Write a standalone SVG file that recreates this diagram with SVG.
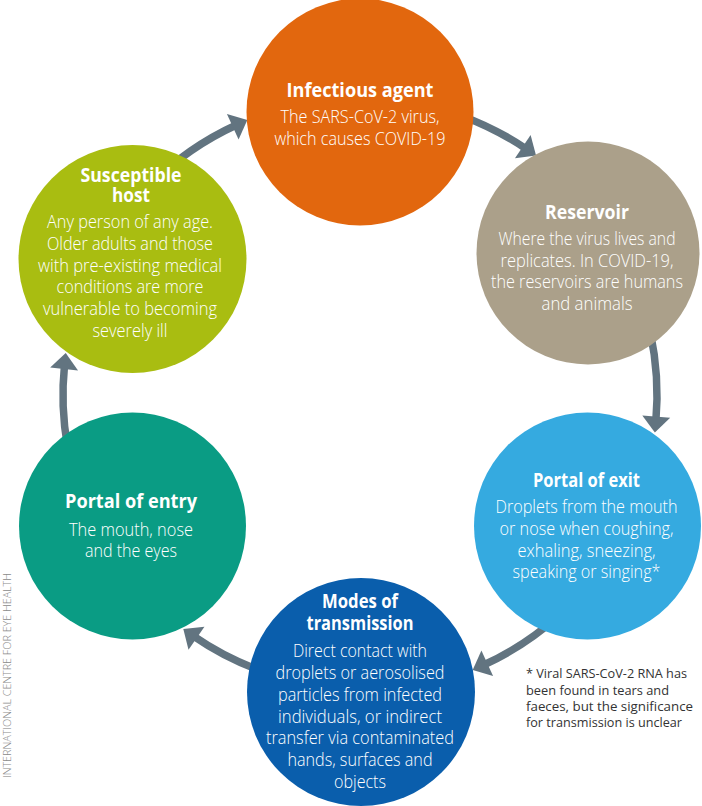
<svg xmlns="http://www.w3.org/2000/svg" width="702" height="806" viewBox="0 0 702 806">
<defs>
<style>
.t{font-family:"Open Sans","Liberation Sans",sans-serif;font-weight:700;font-size:19px;fill:#fff;text-anchor:middle}
.b{font-family:"Open Sans","Liberation Sans",sans-serif;font-weight:300;font-size:18px;fill:#fff;text-anchor:middle}
.fn{font-family:"Open Sans","Liberation Sans",sans-serif;font-weight:400;font-size:13.5px;fill:#333}
.side{font-family:"Open Sans","Liberation Sans",sans-serif;font-weight:300;font-size:10px;fill:#8a8a8a}
.arc{fill:none;stroke:#627480;stroke-width:7.5}
</style>
<marker id="ah" markerUnits="userSpaceOnUse" markerWidth="30" markerHeight="30" viewBox="0 -15 17 30" refX="4" refY="0" orient="auto">
<path d="M0,-14 L16,0 L0,14 z" fill="#627480"/>
</marker>
</defs>
<rect width="702" height="806" fill="#fff"/>
<g id="connectors">
<path class="arc" marker-end="url(#ah)" d="M150,185 A297,297 0 0 1 236.4,125"/>
<path class="arc" marker-end="url(#ah)" d="M461.6,115.9 A297,297 0 0 1 526.1,148.8"/>
<path class="arc" marker-end="url(#ah)" d="M650.5,333.3 A297,297 0 0 1 655.9,420.6"/>
<path class="arc" marker-end="url(#ah)" d="M558.7,615.7 A297,297 0 0 1 483.6,665"/>
<path class="arc" marker-end="url(#ah)" d="M269.5,673.7 A293,293 0 0 1 193.2,635.9"/>
<path class="arc" marker-end="url(#ah)" d="M67.5,446.6 A297,297 0 0 1 64.5,365"/>
</g>
<g id="infectious-agent">
<circle cx="360" cy="112" r="113.5" fill="#E2670E"/>
<text class="t" x="360" y="97" textLength="147" lengthAdjust="spacingAndGlyphs">Infectious agent</text>
<text class="b" x="360" y="123" textLength="159" lengthAdjust="spacingAndGlyphs">The SARS-CoV-2 virus,</text>
<text class="b" x="360" y="145" textLength="171" lengthAdjust="spacingAndGlyphs">which causes COVID-19</text>
</g>
<g id="reservoir">
<circle cx="588" cy="253" r="111.5" fill="#ABA08A"/>
<text class="t" x="587" y="219" textLength="84" lengthAdjust="spacingAndGlyphs">Reservoir</text>
<text class="b" x="587" y="245" textLength="177" lengthAdjust="spacingAndGlyphs">Where the virus lives and</text>
<text class="b" x="587" y="267" textLength="173" lengthAdjust="spacingAndGlyphs">replicates. In COVID-19,</text>
<text class="b" x="587" y="288" textLength="192" lengthAdjust="spacingAndGlyphs">the reservoirs are humans</text>
<text class="b" x="587" y="310" textLength="91" lengthAdjust="spacingAndGlyphs">and animals</text>
</g>
<g id="portal-of-exit">
<circle cx="587.5" cy="526" r="113.5" fill="#35AAE0"/>
<text class="t" x="586.5" y="487" textLength="107" lengthAdjust="spacingAndGlyphs">Portal of exit</text>
<text class="b" x="586.5" y="513" textLength="182" lengthAdjust="spacingAndGlyphs">Droplets from the mouth</text>
<text class="b" x="586.5" y="535" textLength="174" lengthAdjust="spacingAndGlyphs">or nose when coughing,</text>
<text class="b" x="586.5" y="557" textLength="138" lengthAdjust="spacingAndGlyphs">exhaling, sneezing,</text>
<text class="b" x="586.5" y="578" textLength="148" lengthAdjust="spacingAndGlyphs">speaking or singing*</text>
</g>
<g id="modes-of-transmission">
<circle cx="361" cy="692" r="114" fill="#0A5EAC"/>
<text class="t" x="360" y="608" textLength="76" lengthAdjust="spacingAndGlyphs">Modes of</text>
<text class="t" x="360" y="630" textLength="107" lengthAdjust="spacingAndGlyphs">transmission</text>
<text class="b" x="360" y="657" textLength="134" lengthAdjust="spacingAndGlyphs">Direct contact with</text>
<text class="b" x="360" y="679" textLength="169" lengthAdjust="spacingAndGlyphs">droplets or aerosolised</text>
<text class="b" x="360" y="701" textLength="164" lengthAdjust="spacingAndGlyphs">particles from infected</text>
<text class="b" x="360" y="723" textLength="164" lengthAdjust="spacingAndGlyphs">individuals, or indirect</text>
<text class="b" x="360" y="744" textLength="188" lengthAdjust="spacingAndGlyphs">transfer via contaminated</text>
<text class="b" x="360" y="766" textLength="145" lengthAdjust="spacingAndGlyphs">hands, surfaces and</text>
<text class="b" x="360" y="788" textLength="52" lengthAdjust="spacingAndGlyphs">objects</text>
</g>
<g id="portal-of-entry">
<circle cx="132.5" cy="526" r="113.5" fill="#0A9C84"/>
<text class="t" x="131" y="508" textLength="132" lengthAdjust="spacingAndGlyphs">Portal of entry</text>
<text class="b" x="131" y="536" textLength="124" lengthAdjust="spacingAndGlyphs">The mouth, nose</text>
<text class="b" x="131" y="557" textLength="92" lengthAdjust="spacingAndGlyphs">and the eyes</text>
</g>
<g id="susceptible-host">
<circle cx="132.5" cy="259" r="114" fill="#A9BD11"/>
<text class="t" x="131" y="182" textLength="101" lengthAdjust="spacingAndGlyphs">Susceptible</text>
<text class="t" x="131" y="202" textLength="38" lengthAdjust="spacingAndGlyphs">host</text>
<text class="b" x="130" y="228" textLength="166" lengthAdjust="spacingAndGlyphs">Any person of any age.</text>
<text class="b" x="130" y="250" textLength="166" lengthAdjust="spacingAndGlyphs">Older adults and those</text>
<text class="b" x="130" y="272" textLength="184" lengthAdjust="spacingAndGlyphs">with pre-existing medical</text>
<text class="b" x="130" y="293" textLength="147" lengthAdjust="spacingAndGlyphs">conditions are more</text>
<text class="b" x="130" y="315" textLength="174" lengthAdjust="spacingAndGlyphs">vulnerable to becoming</text>
<text class="b" x="130" y="337" textLength="75" lengthAdjust="spacingAndGlyphs">severely ill</text>
</g>
<g id="footnote">
<text class="fn" x="526" y="678" textLength="161" lengthAdjust="spacingAndGlyphs">* Viral SARS-CoV-2 RNA has</text>
<text class="fn" x="526" y="695" textLength="143" lengthAdjust="spacingAndGlyphs">been found in tears and</text>
<text class="fn" x="526" y="711" textLength="167" lengthAdjust="spacingAndGlyphs">faeces, but the significance</text>
<text class="fn" x="526" y="727" textLength="156" lengthAdjust="spacingAndGlyphs">for transmission is unclear</text>
</g>
<g id="credit">
<text class="side" transform="translate(11,778) rotate(-90)" textLength="205" lengthAdjust="spacingAndGlyphs">INTERNATIONAL CENTRE FOR EYE HEALTH</text>
</g>
</svg>
